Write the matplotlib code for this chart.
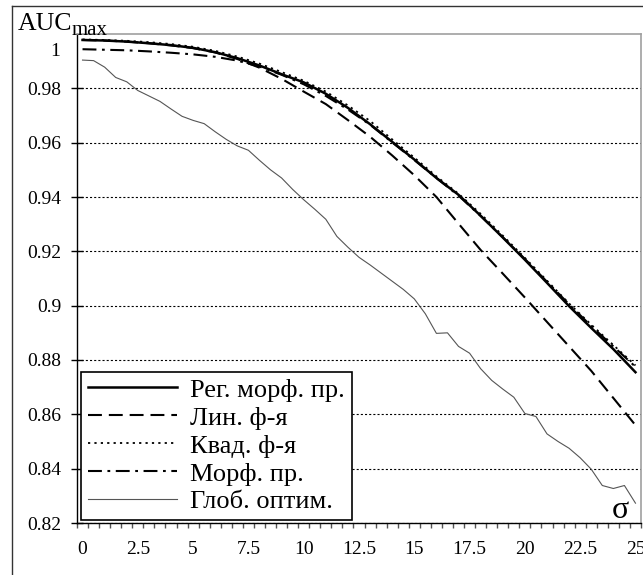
import numpy as np
import matplotlib
matplotlib.use("Agg")
import matplotlib.pyplot as plt
from matplotlib.lines import Line2D

plt.rcParams["font.family"] = ["Liberation Serif", "DejaVu Serif"]
plt.rcParams["lines.scale_dashes"] = False

# ---------------------------------------------------
# DATA
# ---------------------------------------------------
sigma = list(range(26))
sigma_fine = list(np.arange(0, 25.5, 0.5))

reg_morph = [0.9978, 0.9976, 0.9972, 0.9966, 0.9959, 0.9949, 0.9933, 0.9911,
             0.9884, 0.9852, 0.9822, 0.9780, 0.9728, 0.9668, 0.9603, 0.9538,
             0.9470, 0.9408, 0.9331, 0.9251, 0.9169, 0.9084, 0.8998, 0.8918,
             0.8840, 0.8755]

lin_f = [0.9978, 0.9976, 0.9972, 0.9966, 0.9958, 0.9948, 0.9932, 0.9908,
         0.9876, 0.9835, 0.9788, 0.9742, 0.9683, 0.9622, 0.9553, 0.9480,
         0.9400, 0.9302, 0.9205, 0.9118, 0.9030, 0.8940, 0.8850, 0.8760,
         0.8660, 0.8560]

quad_f = [0.9980, 0.9978, 0.9975, 0.9970, 0.9963, 0.9953, 0.9938, 0.9917,
          0.9891, 0.9860, 0.9828, 0.9788, 0.9737, 0.9680, 0.9612, 0.9545,
          0.9476, 0.9412, 0.9338, 0.9258, 0.9176, 0.9092, 0.9008, 0.8930,
          0.8855, 0.8780]

morph = [0.9944, 0.9942, 0.9940, 0.9936, 0.9931, 0.9925, 0.9916, 0.9902,
         0.9880, 0.9850, 0.9815, 0.9772, 0.9722, 0.9666, 0.9601, 0.9536,
         0.9470, 0.9405, 0.9330, 0.9252, 0.9172, 0.9088, 0.9005, 0.8925,
         0.8850, 0.8775]

glob_opt = [0.9904, 0.9902, 0.9878, 0.9840, 0.9824, 0.9792, 0.9772, 0.9752,
            0.9724, 0.9697, 0.9682, 0.9670, 0.9640, 0.9612, 0.9588, 0.9572,
            0.9535, 0.9500, 0.9470, 0.9428, 0.9390, 0.9355, 0.9318, 0.9255,
            0.9215, 0.9178, 0.9150, 0.9120, 0.9090, 0.9060, 0.9025, 0.8970,
            0.8898, 0.8900, 0.8850, 0.8825, 0.8768, 0.8725, 0.8693, 0.8663,
            0.8603, 0.8592, 0.8528, 0.8500, 0.8475, 0.8440, 0.8398, 0.8338,
            0.8327, 0.8338, 0.8273]

labels = ["Рег. морф. пр.", "Лин. ф-я", "Квад. ф-я", "Морф. пр.", "Глоб. оптим."]

x_ticks = [0, 2.5, 5, 7.5, 10, 12.5, 15, 17.5, 20, 22.5, 25]
x_tick_labels = ["0", "2.5", "5", "7.5", "10", "12.5", "15", "17.5", "20", "22.5", "25"]
y_ticks = [0.82, 0.84, 0.86, 0.88, 0.9, 0.92, 0.94, 0.96, 0.98]
y_tick_labels = ["0.82", "0.84", "0.86", "0.88", "0.9", "0.92", "0.94", "0.96", "0.98"]


# ---------------------------------------------------
# FIGURE
# ---------------------------------------------------
W, H = 643, 575
fig = plt.figure(figsize=(W / 100, H / 100), dpi=100)
ax = fig.add_axes([77 / W, 1 - 523 / H, (641 - 77) / W, (523 - 34) / H])

l_glob, = ax.plot(sigma_fine, glob_opt, color="#555555", linewidth=0.8)
l_lin, = ax.plot(sigma, lin_f, color="black", linewidth=1.5, dashes=(10, 5))
l_morph, = ax.plot(sigma, morph, color="black", linewidth=1.5, dashes=(10, 4, 2, 4))
l_quad, = ax.plot(sigma, quad_f, color="black", linewidth=1.3, dashes=(1.6, 3))
l_reg, = ax.plot(sigma, reg_morph, color="black", linewidth=1.8)

ax.set_xlim(-0.25, 25.25)
ax.set_ylim(0.82, 1.0)

ax.set_xticks(x_ticks)
ax.set_xticklabels(x_tick_labels)
ax.set_xticks(np.arange(-0.25, 25.3, 0.5), minor=True)
ax.set_yticks(y_ticks)
ax.set_yticklabels(y_tick_labels)

ax.tick_params(axis="x", which="major", length=0, pad=13, labelsize=14)
ax.tick_params(axis="x", which="minor", direction="out", length=3.6,
               width=1, color="#555555")
ax.tick_params(axis="y", direction="inout", length=8, width=1, pad=7.5,
               labelsize=14)

# "1" label sits a little below the top edge
ax.annotate("1", xy=(0, 1.0), xycoords=("axes fraction", "data"),
            xytext=(-17, -18), textcoords="offset pixels",
            ha="right", va="center", fontsize=14)

ax.yaxis.grid(True, color="black", linewidth=0.8, linestyle=(0, (1.5, 1.5)))
ax.set_axisbelow(True)

for side in ["left", "bottom"]:
    ax.spines[side].set_color("black")
    ax.spines[side].set_linewidth(1.0)
for side in ["top", "right"]:
    ax.spines[side].set_color("#a0a0a0")
    ax.spines[side].set_linewidth(1.2)

leg = ax.legend([l_reg, l_lin, l_quad, l_morph, l_glob], labels,
                loc="lower left", bbox_to_anchor=(0.007, 0.006),
                borderaxespad=0, fontsize=19, handlelength=3.4,
                handletextpad=0.5, borderpad=0.25, labelspacing=0.17,
                fancybox=False, framealpha=1)
leg.get_frame().set_edgecolor("black")
leg.get_frame().set_linewidth(1.2)

# axis titles
fig.text(18 / W, 1 - 30 / H, "AUC", fontsize=18.5, ha="left", va="baseline")
fig.text(72 / W, 1 - 35 / H, "max", fontsize=15, ha="left", va="baseline")
fig.text(620 / W, 1 - 518 / H, "σ", fontsize=23, ha="center", va="baseline")

# outer frame of the picture
fig.add_artist(Line2D([12 / W, 12 / W], [1 - 6 / H, 0], transform=fig.transFigure,
                      color="#333333", linewidth=1.0))
fig.add_artist(Line2D([12 / W, 1], [1 - 6 / H, 1 - 6 / H], transform=fig.transFigure,
                      color="#333333", linewidth=1.0))

fig.savefig("out.png", dpi=100)
plt.close(fig)
